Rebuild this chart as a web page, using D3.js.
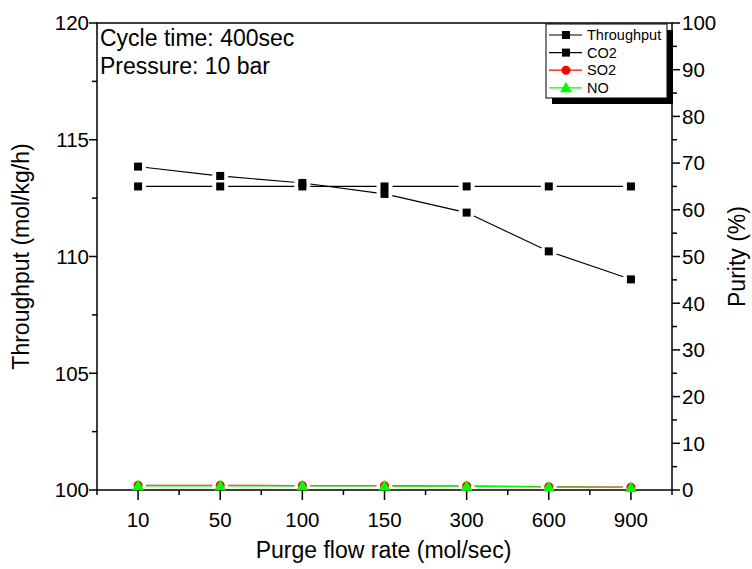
<!DOCTYPE html>
<html><head><meta charset="utf-8">
<script src="https://cdn.jsdelivr.net/npm/d3@7"></script>
<style>html,body{margin:0;padding:0;background:#fff}svg{display:block}text{font-family:"Liberation Sans",Arial,sans-serif}</style>
</head><body>
<script>
const categories = ["10","50","100","150","300","600","900"];
const throughput = [113.85,113.45,113.15,112.68,111.88,110.22,109.02];
const co2 = [65,65,65,65,65,65,65];
const so2 = [1.0,1.0,0.95,0.9,0.85,0.7,0.6];
const no = [0.9,0.9,0.9,0.85,0.8,0.65,0.55];
const leftTicks = [100,105,110,115,120];
const rightTicks = [0,10,20,30,40,50,60,70,80,90,100];
const seriesNames = ["Throughput","CO2","SO2","NO"];
const annotation = ["Cycle time: 400sec","Pressure: 10 bar"];

const W=752,H=569;
const L=97,R=672,T=23,B=490;
const FS=20.5, FT=23;
const svg=d3.select("body").append("svg").attr("width",W).attr("height",H);
const x=d3.scalePoint().domain(categories).range([L,R]).padding(0.5);
const yL=d3.scaleLinear().domain([100,120]).range([B,T]);
const yR=d3.scaleLinear().domain([0,100]).range([B,T]);

// frame
svg.append("rect").attr("x",L).attr("y",T).attr("width",R-L).attr("height",B-T).attr("fill","none").attr("stroke","#000").attr("stroke-width",1.5);

// x axis
const step=x.step();
const xMinor=d3.range(categories.length+1).map(i=>L+i*step);
const gx=svg.append("g");
gx.selectAll("line.mj").data(categories).join("line").attr("x1",d=>x(d)).attr("x2",d=>x(d)).attr("y1",B).attr("y2",B+10).attr("stroke","#000").attr("stroke-width",1.5);
gx.selectAll("line.mn").data(xMinor).join("line").attr("x1",d=>d).attr("x2",d=>d).attr("y1",B).attr("y2",B+5).attr("stroke","#000").attr("stroke-width",1.5);
gx.selectAll("text").data(categories).join("text").attr("x",d=>x(d)).attr("y",B+37).attr("text-anchor","middle").attr("font-size",FS).text(d=>d);

// left axis
const gl=svg.append("g");
const lMinor=d3.range(102.5,120,5);
gl.selectAll("line.mj").data(leftTicks).join("line").attr("x1",L-8).attr("x2",L).attr("y1",d=>yL(d)).attr("y2",d=>yL(d)).attr("stroke","#000").attr("stroke-width",1.5);
gl.selectAll("line.mn").data(lMinor).join("line").attr("x1",L-5).attr("x2",L).attr("y1",d=>yL(d)).attr("y2",d=>yL(d)).attr("stroke","#000").attr("stroke-width",1.5);
gl.selectAll("text").data(leftTicks).join("text").attr("x",L-8).attr("y",d=>yL(d)).attr("dy","0.36em").attr("text-anchor","end").attr("font-size",FS).text(d=>d);

// right axis
const gr=svg.append("g");
const rMinor=d3.range(5,100,10);
gr.selectAll("line.mj").data(rightTicks).join("line").attr("x1",R).attr("x2",R+8).attr("y1",d=>yR(d)).attr("y2",d=>yR(d)).attr("stroke","#000").attr("stroke-width",1.5);
gr.selectAll("line.mn").data(rMinor).join("line").attr("x1",R).attr("x2",R+5).attr("y1",d=>yR(d)).attr("y2",d=>yR(d)).attr("stroke","#000").attr("stroke-width",1.5);
gr.selectAll("text").data(rightTicks).join("text").attr("x",R+10).attr("y",d=>yR(d)).attr("dy","0.36em").attr("text-anchor","start").attr("font-size",FS).text(d=>d);

// titles
svg.append("text").attr("x",(L+R)/2-1).attr("y",558).attr("text-anchor","middle").attr("font-size",FT).text("Purge flow rate (mol/sec)");
svg.append("text").attr("transform",`translate(29,${(T+B)/2}) rotate(-90)`).attr("text-anchor","middle").attr("font-size",FT).text("Throughput (mol/kg/h)");
svg.append("text").attr("transform",`translate(745,${(T+B)/2}) rotate(-90)`).attr("text-anchor","middle").attr("font-size",FT).text("Purity (%)");

// annotation
svg.selectAll("text.ann").data(annotation).join("text").attr("class","ann").attr("x",L+3).attr("y",(d,i)=>46+i*28).attr("font-size",FT).text(d=>d);

// series
const series=[
 {name:"Throughput",vals:throughput,y:yL,color:"#000",shape:"square"},
 {name:"CO2",vals:co2,y:yR,color:"#000",shape:"square"},
 {name:"SO2",vals:so2,y:yR,color:"#ff0000",shape:"circle"},
 {name:"NO",vals:no,y:yR,color:"#00ff00",shape:"triangle"}
];
const gap=8;
function drawMarker(g,shape,cx,cy,color){
  if(shape==="square") g.append("rect").attr("x",cx-4).attr("y",cy-4).attr("width",8).attr("height",8).attr("fill",color);
  else if(shape==="circle") g.append("circle").attr("cx",cx).attr("cy",cy).attr("r",4.5).attr("fill",color);
  else g.append("path").attr("d",`M${cx},${cy-6}L${cx+6},${cy+4.5}L${cx-6},${cy+4.5}Z`).attr("fill",color);
}
series.forEach(s=>{
  const g=svg.append("g");
  const pts=categories.map((c,i)=>[x(c),s.y(s.vals[i])]);
  for(let i=0;i<pts.length-1;i++){
    const [x1,y1]=pts[i],[x2,y2]=pts[i+1];
    const dx=x2-x1,dy=y2-y1,len=Math.hypot(dx,dy);
    const ux=dx/len,uy=dy/len;
    g.append("line").attr("x1",x1+ux*gap).attr("y1",y1+uy*gap).attr("x2",x2-ux*gap).attr("y2",y2-uy*gap).attr("stroke",s.color).attr("stroke-width",1.2);
  }
  pts.forEach(p=>drawMarker(g,s.shape,p[0],p[1],s.color));
});

// legend
const lx=546,ly=24,lw=121,lh=74;
svg.append("rect").attr("x",lx+6).attr("y",ly+6).attr("width",lw).attr("height",lh).attr("fill","#000");
svg.append("rect").attr("x",lx).attr("y",ly).attr("width",lw).attr("height",lh).attr("fill","#fff").attr("stroke","#000").attr("stroke-width",1);
series.forEach((s,i)=>{
  const cy=ly+11+i*17.6;
  const g=svg.append("g");
  g.append("line").attr("x1",lx+3).attr("x2",lx+36).attr("y1",cy).attr("y2",cy).attr("stroke",s.color).attr("stroke-width",1.2);
  drawMarker(g,s.shape,lx+20,cy,s.color);
  g.append("text").attr("x",lx+41).attr("y",cy).attr("dy","0.36em").attr("font-size",14.5).text(s.name);
});
</script>
</body></html>
